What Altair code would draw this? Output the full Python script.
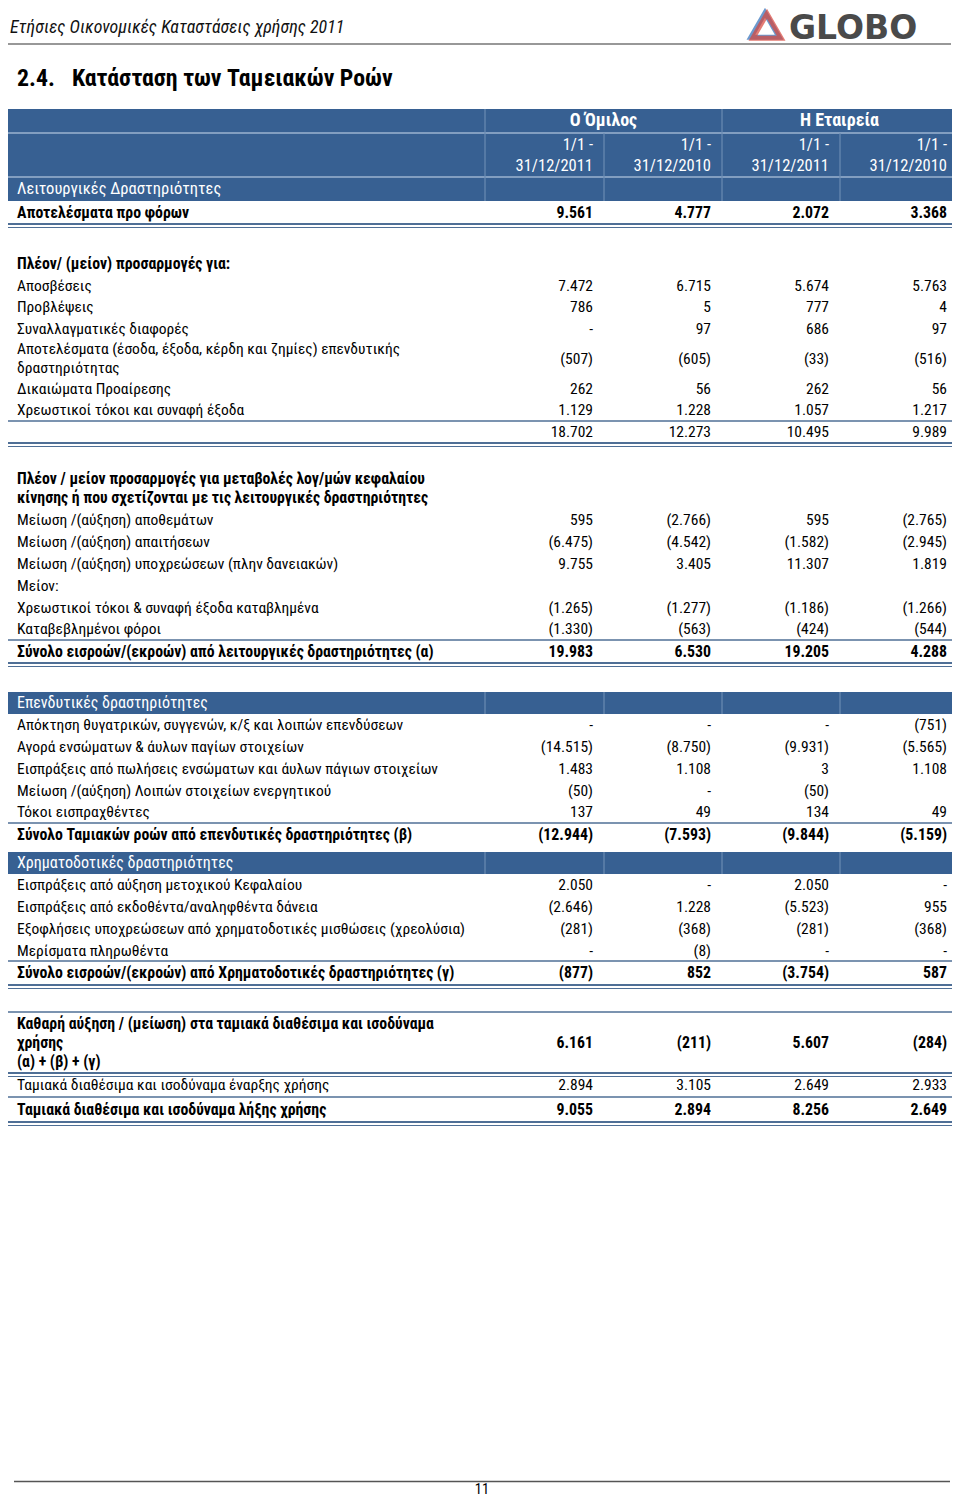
import altair as alt
import pandas as pd

# ------------------------------------------------------------------ data
page_header = "Ετήσιες Οικονομικές Καταστάσεις χρήσης 2011"
logo_text = "GLOBO"
section_no = "2.4."
section_title = "Κατάσταση των Ταμειακών Ροών"
entity_names = ["Ο Όμιλος", "Η Εταιρεία"]
period_labels = ["1/1 -\n31/12/2011", "1/1 -\n31/12/2010", "1/1 -\n31/12/2011", "1/1 -\n31/12/2010"]
first_band_label = "Λειτουργικές Δραστηριότητες"
page_number = "11"

labels = [
    "Αποτελέσματα προ φόρων",
    "Πλέον/ (μείον) προσαρμογές για:",
    "Αποσβέσεις",
    "Προβλέψεις",
    "Συναλλαγματικές διαφορές",
    "Αποτελέσματα (έσοδα, έξοδα, κέρδη και ζημίες) επενδυτικής\nδραστηριότητας",
    "Δικαιώματα Προαίρεσης",
    "Χρεωστικοί τόκοι και συναφή έξοδα",
    "",
    "Πλέον / μείον προσαρμογές για μεταβολές λογ/μών κεφαλαίου\nκίνησης ή που σχετίζονται με τις λειτουργικές δραστηριότητες",
    "Μείωση /(αύξηση) αποθεμάτων",
    "Μείωση /(αύξηση) απαιτήσεων",
    "Μείωση /(αύξηση) υποχρεώσεων (πλην δανειακών)",
    "Μείον:",
    "Χρεωστικοί τόκοι & συναφή έξοδα καταβλημένα",
    "Καταβεβλημένοι φόροι",
    "Σύνολο εισροών/(εκροών) από λειτουργικές δραστηριότητες (α)",
    "Επενδυτικές δραστηριότητες",
    "Απόκτηση θυγατρικών, συγγενών, κ/ξ και λοιπών επενδύσεων",
    "Αγορά ενσώματων & άυλων παγίων στοιχείων",
    "Εισπράξεις από πωλήσεις ενσώματων και άυλων πάγιων στοιχείων",
    "Μείωση /(αύξηση) Λοιπών στοιχείων ενεργητικού",
    "Τόκοι εισπραχθέντες",
    "Σύνολο Ταμιακών ροών από επενδυτικές δραστηριότητες (β)",
    "Χρηματοδοτικές δραστηριότητες",
    "Εισπράξεις από αύξηση μετοχικού Κεφαλαίου",
    "Εισπράξεις από εκδοθέντα/αναληφθέντα δάνεια",
    "Εξοφλήσεις υποχρεώσεων από χρηματοδοτικές μισθώσεις (χρεολύσια)",
    "Μερίσματα πληρωθέντα",
    "Σύνολο εισροών/(εκροών) από Χρηματοδοτικές δραστηριότητες (γ)",
    "Καθαρή αύξηση / (μείωση) στα ταμιακά διαθέσιμα και ισοδύναμα\nχρήσης\n(α) + (β) + (γ)",
    "Ταμιακά διαθέσιμα και ισοδύναμα έναρξης χρήσης",
    "Ταμιακά διαθέσιμα και ισοδύναμα λήξης χρήσης",
]

# row kind: n = normal, b = bold total, h = bold heading, s = blue section band
kinds = ["b", "h", "n", "n", "n", "n", "n", "n", "n", "h", "n", "n", "n", "n", "n", "n", "b",
         "s", "n", "n", "n", "n", "n", "b", "s", "n", "n", "n", "n", "b", "b", "n", "b"]

# values in thousand euro; 0 is shown as "-", None as blank
group_2011 = [9561, None, 7472, 786, 0, -507, 262, 1129, 18702, None, 595, -6475, 9755, None,
              -1265, -1330, 19983, None, 0, -14515, 1483, -50, 137, -12944, None, 2050, -2646,
              -281, 0, -877, 6161, 2894, 9055]
group_2010 = [4777, None, 6715, 5, 97, -605, 56, 1228, 12273, None, -2766, -4542, 3405, None,
              -1277, -563, 6530, None, 0, -8750, 1108, 0, 49, -7593, None, 0, 1228,
              -368, -8, 852, -211, 3105, 2894]
company_2011 = [2072, None, 5674, 777, 686, -33, 262, 1057, 10495, None, 595, -1582, 11307, None,
                -1186, -424, 19205, None, 0, -9931, 3, -50, 134, -9844, None, 2050, -5523,
                -281, 0, -3754, 5607, 2649, 8256]
company_2010 = [3368, None, 5763, 4, 97, -516, 56, 1217, 9989, None, -2765, -2945, 1819, None,
                -1266, -544, 4288, None, -751, -5565, 1108, None, 49, -5159, None, 0, 955,
                -368, 0, 587, -284, 2933, 2649]

# ------------------------------------------------------------------ layout (px, page coords)
W, H = 944, 1489
X0, Y0 = 8, 8
table_left, table_right = 8, 957
label_x = 17
col_right = [593, 711, 829, 947]
col_sep = [485, 604, 722, 840]
header_rows = [109, 133, 177, 201]
table_start = 202
# gap before, row height, rule below, rule above
gaps = [0, 29, 0, 0, 0, 0, 0, 0, 0, 25, 0, 0, 0, 0, 0, 0, 0,
        29, 0, 0, 0, 0, 0, 0, 6, 0, 0, 0, 0, 0, 27, 0, 0]
heights = [22, 22, 21.5, 21.5, 21.5, 38.5, 21, 22, 22, 41, 22, 22, 22, 22, 21, 22, 23,
           22, 22, 22, 22, 21, 22, 23, 22, 22, 22, 22, 21, 24, 61, 24, 25]
rule_below = ["d", "", "", "", "", "", "", "s", "d", "", "", "", "", "", "", "s", "d",
              "", "", "", "", "", "s", "", "", "", "", "", "s", "d", "d", "s", "d"]
rule_above = [""] * 30 + ["s", "", ""]

BAND = "#376092"
SEP = "#6a8bb3"
RULE = "#4f6f96"
FONT = "Roboto Condensed, Liberation Sans Narrow, DejaVu Sans Condensed, sans-serif"
FS = 15.5
LH = 19

xs = alt.Scale(domain=[X0, X0 + W], range=[0, W])
ys = alt.Scale(domain=[Y0, Y0 + H], range=[0, H])


def X(f):
    return alt.X(f, type="quantitative", scale=xs, axis=None)


def Y(f):
    return alt.Y(f, type="quantitative", scale=ys, axis=None)


def fmt(v):
    if v is None:
        return ""
    if v == 0:
        return "-"
    s = f"{abs(v):,}".replace(",", ".")
    return f"({s})" if v < 0 else s


def first_line_y(center, text, lh):
    n = text.count("\n") + 1
    return center - (n - 1) * lh / 2


# ------------------------------------------------------------------ build tables
cols = [group_2011, group_2010, company_2011, company_2010]
row_recs, val_recs, rects, rules = [], [], [], []
cur = table_start
for i, lab in enumerate(labels):
    cur += gaps[i]
    top = cur
    cur += heights[i]
    bot = cur
    yc = (top + bot) / 2
    k = kinds[i]
    row_recs.append({"x": label_x, "y": first_line_y(yc, lab, LH), "text": lab, "kind": k})
    for c in range(4):
        t = fmt(cols[c][i])
        if t:
            val_recs.append({"x": col_right[c], "y": yc, "text": t, "kind": k})
    if k == "s":
        rects.append({"x": table_left, "x2": table_right, "y": top, "y2": bot, "c": BAND})
        for sx in col_sep:
            rules.append({"x": sx, "x2": sx, "y": top, "y2": bot, "c": SEP, "w": 1.2})
    for pos, kind in ((bot, rule_below[i]), (top, rule_above[i])):
        if kind == "s":
            rules.append({"x": table_left, "x2": table_right, "y": pos, "y2": pos, "c": RULE, "w": 1.6})
        elif kind == "d":
            rules.append({"x": table_left, "x2": table_right, "y": pos, "y2": pos, "c": RULE, "w": 2.2})
            rules.append({"x": table_left, "x2": table_right, "y": pos + 3.5, "y2": pos + 3.5, "c": RULE, "w": 1.2})

# header band
rects.append({"x": table_left, "x2": table_right, "y": header_rows[0], "y2": header_rows[3], "c": BAND})
for hy in header_rows[1:3]:
    rules.append({"x": table_left, "x2": table_right, "y": hy, "y2": hy, "c": "#9db3cf", "w": 1.3})
for j, sx in enumerate(col_sep):
    y_from = header_rows[0] if j in (0, 2) else header_rows[1]
    rules.append({"x": sx, "x2": sx, "y": y_from, "y2": header_rows[3], "c": SEP, "w": 1.2})
# page rules
rules.append({"x": 0, "x2": 951, "y": 44, "y2": 44, "c": "#333333", "w": 1.2})
rules.append({"x": 14, "x2": 950, "y": 1481.5, "y2": 1481.5, "c": "#555555", "w": 1.5})

rows_df = pd.DataFrame(row_recs)
vals_df = pd.DataFrame(val_recs)
rect_df = pd.DataFrame(rects)
rule_df = pd.DataFrame(rules)

header_df = pd.DataFrame({
    "x": [(col_sep[0] + col_sep[2]) / 2, (col_sep[2] + table_right) / 2],
    "y": [(header_rows[0] + header_rows[1]) / 2] * 2,
    "text": entity_names,
})
PLH = 21
period_df = pd.DataFrame({
    "x": col_right,
    "y": [first_line_y((header_rows[1] + header_rows[2]) / 2, t, PLH) for t in period_labels],
    "text": period_labels,
})
band1_df = pd.DataFrame({"x": [label_x], "y": [(header_rows[2] + header_rows[3]) / 2],
                         "text": [first_band_label]})

# ------------------------------------------------------------------ layers
rect_layer = alt.Chart(rect_df).mark_rect().encode(
    x=X("x"), x2=alt.X2("x2"), y=Y("y"), y2=alt.Y2("y2"), color=alt.Color("c:N", scale=None))
rule_layer = alt.Chart(rule_df).mark_rule().encode(
    x=X("x"), x2=alt.X2("x2"), y=Y("y"), y2=alt.Y2("y2"),
    color=alt.Color("c:N", scale=None), size=alt.Size("w:Q", scale=None))


def txt(df, filt=None, **kw):
    base = dict(font=FONT, fontSize=FS, baseline="middle", align="left", color="#000000",
                lineBreak="\n", lineHeight=LH)
    base.update(kw)
    ch = alt.Chart(df)
    if filt:
        ch = ch.transform_filter(filt)
    return ch.mark_text(**base).encode(x=X("x"), y=Y("y"), text="text:N")


layers = [
    rect_layer,
    rule_layer,
    txt(rows_df, "datum.kind == 'n'"),
    txt(rows_df, "datum.kind == 'b' || datum.kind == 'h'", fontWeight="bold", fontSize=15.8),
    txt(rows_df, "datum.kind == 's'", color="white", fontSize=16),
    txt(vals_df, "datum.kind == 'n'", align="right"),
    txt(vals_df, "datum.kind == 'b'", align="right", fontWeight="bold", fontSize=15.8),
    txt(header_df, align="center", color="white", fontWeight="bold", fontSize=18),
    txt(period_df, align="right", color="white", fontSize=16.5, lineHeight=PLH),
    txt(band1_df, color="white", fontSize=16.5),
    txt(pd.DataFrame({"x": [10], "y": [28], "text": [page_header]}),
        fontStyle="italic", fontSize=17.9, color="#111111"),
    txt(pd.DataFrame({"x": [17], "y": [79], "text": [section_no]}),
        fontWeight="bold", fontSize=23.8),
    txt(pd.DataFrame({"x": [72], "y": [79], "text": [section_title]}),
        fontWeight="bold", fontSize=23.8),
    txt(pd.DataFrame({"x": [789], "y": [28.5], "text": [logo_text]}),
        font="DejaVu Sans, sans-serif", fontWeight="bold", fontSize=33, color="#4a4a4a"),
    alt.Chart(pd.DataFrame({"x": [765, 767], "y": [25, 26]})).mark_point(
        shape="triangle-up", size=800, filled=False, strokeWidth=5).encode(
        x=X("x"), y=Y("y"),
        color=alt.Color("x:N", scale=alt.Scale(range=["#2f6fba", "#d9463b"]), legend=None)),
    txt(pd.DataFrame({"x": [482], "y": [1496.5], "text": [page_number]}), align="center",
        fontSize=14.5, baseline="bottom"),
]

chart = alt.layer(*layers).properties(
    width=W, height=H, padding=0, autosize=alt.AutoSizeParams(type="none"),
    background="white",
).configure_view(stroke=None)

chart.save("out.html", embed_options={"renderer": "svg", "actions": False})
